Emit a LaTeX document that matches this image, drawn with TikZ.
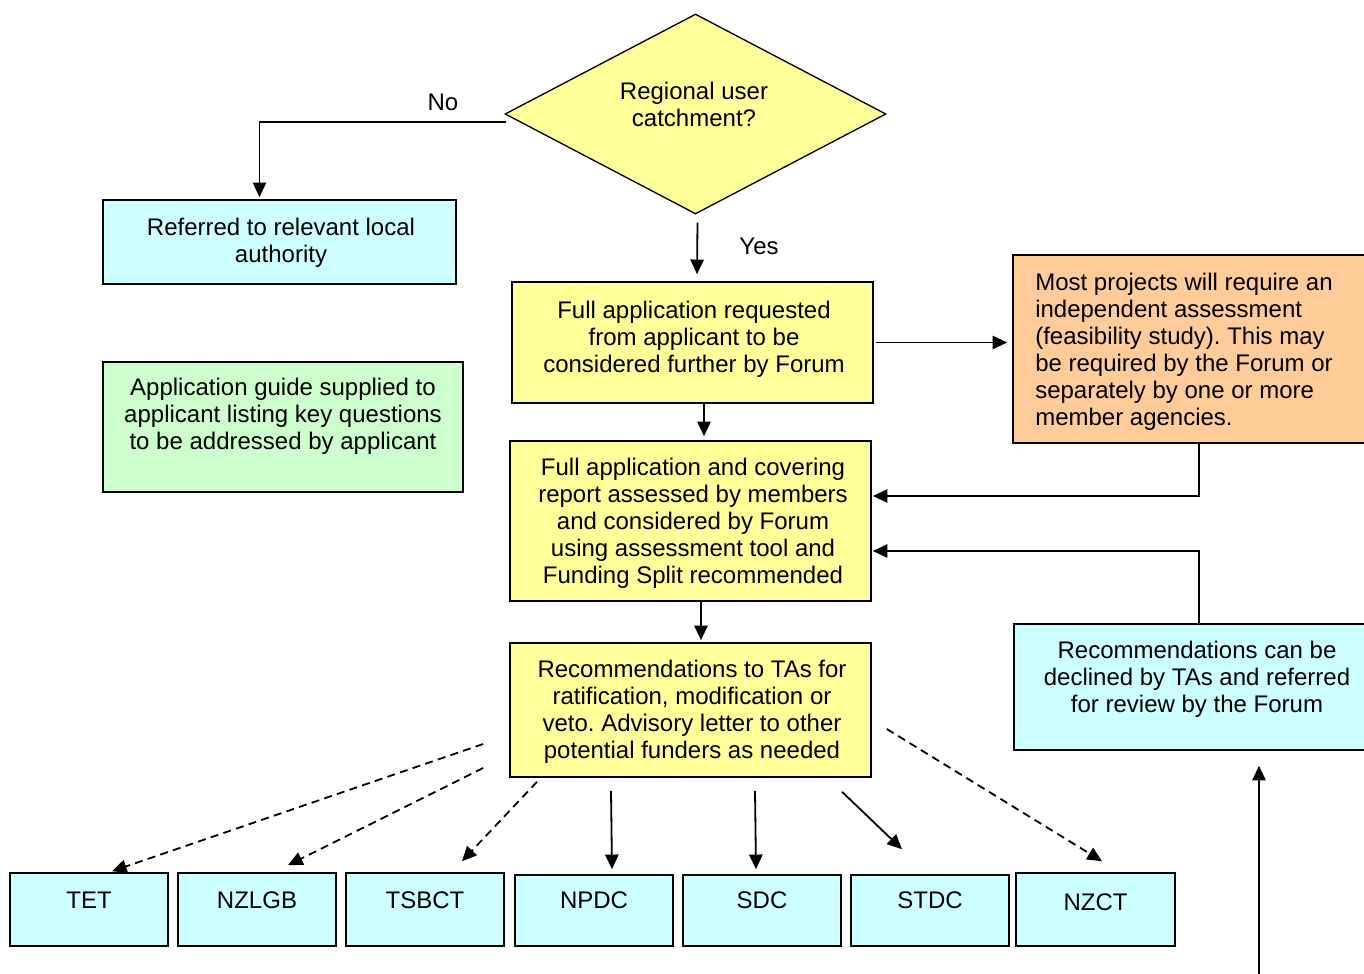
\documentclass[tikz,border=0pt]{standalone}
\usepackage{fontspec}
\setmainfont{Liberation Sans}
\frenchspacing
\usetikzlibrary{arrows.meta,shapes.geometric,fit,calc}
\definecolor{boxyellow}{HTML}{FFFF99}
\definecolor{boxcyan}{HTML}{CCFFFF}
\definecolor{boxgreen}{HTML}{CCFFCC}
\definecolor{boxorange}{HTML}{FFCC99}
\tikzset{
  every picture/.style={line join=miter, >={Triangle[length=11pt,width=10pt]}},
  box/.style={draw, line width=1.2pt, inner sep=0pt},
  ybox/.style={box, fill=boxyellow},
  cbox/.style={box, fill=boxcyan},
  gbox/.style={box, fill=boxgreen},
  obox/.style={box, fill=boxorange},
  decision/.style={diamond, draw, line width=1pt, fill=boxyellow, inner sep=0pt},
  txt/.style={align=center, inner sep=0pt},
  arr/.style={->, line width=1.35pt},
  darr/.style={arr, dash pattern=on 6pt off 4pt},
}

\begin{document}
\begin{tikzpicture}[x=0.75pt, y=-0.75pt, font=\fontsize{18}{20.25}\selectfont]
\useasboundingbox (0,0) rectangle (1364,974);
% question
\node[decision, minimum width=285.75pt, minimum height=150pt] (dec) at (695.5,114) {};
\node[txt] (dect) at (694,104.5) {Regional user\\catchment?};
% boxes
\node[cbox, fit={(103,200) (456,284)}] (ref) {};
\node[txt] (reft) at (281,243) {Referred to relevant local\\authority};
\node[gbox, fit={(103,362) (463,492)}] (guide) {};
\node[txt] (guidet) at (283,416) {Application guide supplied to\\applicant listing key questions\\to be addressed by applicant};
\node[ybox, fit={(512,282) (873,403)}] (req) {};
\node[txt] (reqt) at (694,339) {Full application requested\\from applicant to be\\considered further by Forum};
\node[obox, fit={(1013,255) (1385,443)}] (study) {};
\node[txt, align=left, anchor=west] (studyt) at (1035,352) {Most projects will require an\\independent assessment\\(feasibility study). This may\\be required by the Forum or\\separately by one or more\\member agencies.};
\node[ybox, fit={(510,441) (871,601)}] (asmt) {};
\node[txt] (asmtt) at (693,523.5) {Full application and covering\\report assessed by members\\and considered by Forum\\using assessment tool and\\Funding Split recommended};
\node[ybox, fit={(510,643) (871,777)}] (recs) {};
\node[txt] (recst) at (692,711.5) {Recommendations to TAs for\\ratification, modification or\\veto. Advisory letter to other\\potential funders as needed};
\node[cbox, fit={(1014,624) (1384,750)}] (review) {};
\node[txt] (reviewt) at (1197,679.5) {Recommendations can be\\declined by TAs and referred\\for review by the Forum};
% funders
\node[cbox, fit={(10,873) (168,946)}] (tet) {};
\node[txt] (tett) at (89,900) {TET};
\node[cbox, fit={(178,873) (336,946)}] (nzlgb) {};
\node[txt] (nzlgbt) at (257,900) {NZLGB};
\node[cbox, fit={(346,873) (504,946)}] (tsbct) {};
\node[txt] (tsbctt) at (425,900) {TSBCT};
\node[cbox, fit={(515,875) (673,946)}] (npdc) {};
\node[txt] (npdct) at (594,900) {NPDC};
\node[cbox, fit={(683,875) (841,946)}] (sdc) {};
\node[txt] (sdct) at (762,900) {SDC};
\node[cbox, fit={(851,875) (1009,946)}] (stdc) {};
\node[txt] (stdct) at (930,900) {STDC};
\node[cbox, fit={(1016,873) (1175,946)}] (nzct) {};
\node[txt] (nzctt) at (1095.5,902) {NZCT};
% connectors
\draw[arr] ($(dec.west)+(2,8)$) -| ($(ref.north)+(-20,-2)$);
\node[txt] (no) at (443,102) {No};
\draw[arr] ($(dec.south)+(2,8)$) -- ($(req.north)+(4.5,-7)$);
\node[txt] (yes) at (759,246) {Yes};
\draw[arr] ($(req.east)+(2,0)$) -- ($(req.east -| study.west)+(-5,0)$);
\draw[arr] ($(req.south)+(11.5,0)$) -- ($(asmt.north)+(13.5,-4)$);
\draw[arr] (study.south) |- ($(asmt.east)+(1,-25)$);
\draw[arr] (review.north) |- ($(asmt.east)+(1,30)$);
\draw[arr] ($(asmt.south)+(10.5,0)$) -- ($(recs.north)+(10.5,-2)$);
\draw[arr] ($(review.south)+(60,224)$) -- ($(review.south)+(60,15)$);
\draw[darr] ($(recs.west)+(-26,34)$) -- ($(tet.north)+(23,-1)$);
\draw[darr] ($(recs.west)+(-26,58)$) -- ($(nzlgb.north)+(31,-7)$);
\draw[darr] ($(recs.south)+(-153.5,4)$) -- ($(tsbct.north)+(37,-11)$);
\draw[arr] ($(recs.south)+(-79.5,13)$) -- ($(npdc.north)+(18,-5)$);
\draw[arr] ($(recs.south)+(64.5,13)$) -- ($(sdc.north)+(-6,-5)$);
\draw[arr] ($(recs.south)+(151.5,14)$) -- ($(stdc.north)+(-28,-25)$);
\draw[darr] ($(recs.east)+(15,19)$) -- ($(nzct.north)+(6.5,-11)$);
\end{tikzpicture}
\end{document}
